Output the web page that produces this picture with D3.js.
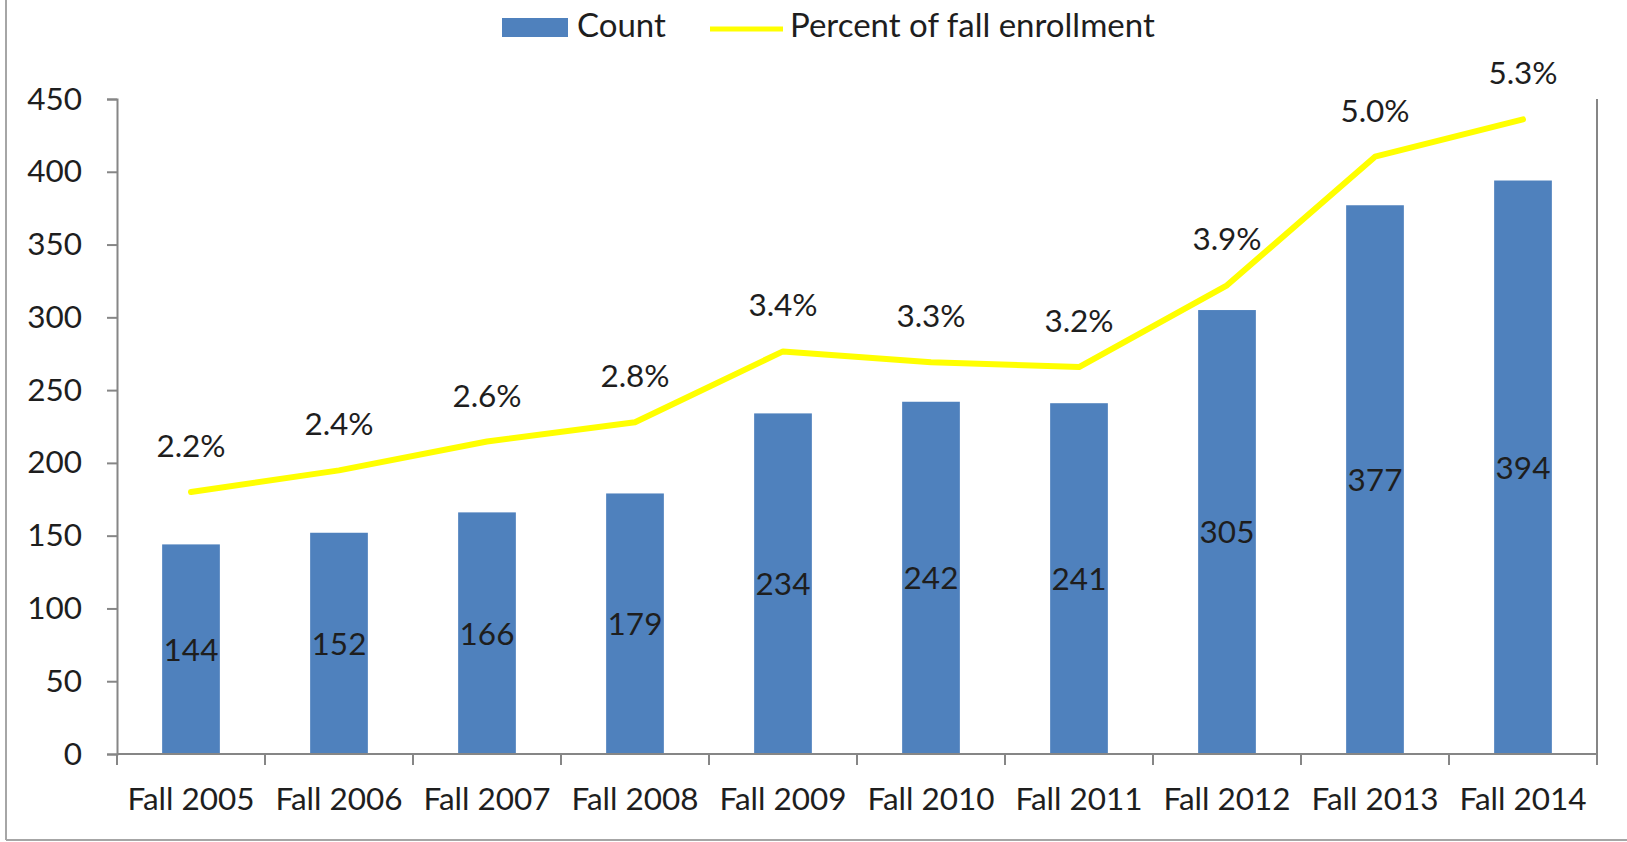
<!DOCTYPE html>
<html>
<head>
<meta charset="utf-8">
<script src="https://cdn.jsdelivr.net/npm/d3@7"></script>
<style>
  html, body { margin: 0; padding: 0; background: #fff; }
  svg text { font-family: Lato, "Open Sans", sans-serif; fill: #1e1e1e; }
</style>
</head>
<body>
<svg id="chart"></svg>
<script>
// Data
const terms = ['Fall 2005', 'Fall 2006', 'Fall 2007', 'Fall 2008', 'Fall 2009',
  'Fall 2010', 'Fall 2011', 'Fall 2012', 'Fall 2013', 'Fall 2014'];
const counts = [144, 152, 166, 179, 234, 242, 241, 305, 377, 394];
const percents = [2.18, 2.36, 2.6, 2.76, 3.35, 3.26, 3.22, 3.9, 4.97, 5.28];
const countTicks = [0, 50, 100, 150, 200, 250, 300, 350, 400, 450];

const width = 1627, height = 842;
const margin = { top: 99, right: 30, bottom: 88, left: 117 };
const fontSize = 31.5;
const legendFontSize = 33;

const svg = d3.select('#chart').attr('width', width).attr('height', height);

// Frame (left and bottom edges only are visible)
svg.append('line')
  .attr('x1', 6).attr('x2', 6).attr('y1', 0).attr('y2', 840)
  .attr('stroke', '#a6a6a6').attr('stroke-width', 2);
svg.append('line')
  .attr('x1', 6).attr('x2', width).attr('y1', 840).attr('y2', 840)
  .attr('stroke', '#a6a6a6').attr('stroke-width', 2);

const x = d3.scaleBand()
  .domain(terms)
  .range([margin.left, width - margin.right])
  .paddingInner(0.61)
  .paddingOuter(0.305);

const y = d3.scaleLinear()
  .domain([0, 450])
  .range([height - margin.bottom, margin.top]);

const yPct = d3.scaleLinear()
  .domain([0, 5.45])
  .range([height - margin.bottom, margin.top]);

const axisColor = '#868686';

// --- Bars ---
svg.append('g').attr('class', 'bars')
  .selectAll('rect')
  .data(terms)
  .join('rect')
  .attr('x', d => x(d))
  .attr('width', x.bandwidth())
  .attr('y', (d, i) => y(counts[i]))
  .attr('height', (d, i) => y(0) - y(counts[i]))
  .attr('fill', '#4f81bd');

// Bar value labels, centred in the bar
svg.append('g').attr('class', 'bar-labels')
  .selectAll('text')
  .data(terms)
  .join('text')
  .attr('x', d => x(d) + x.bandwidth() / 2)
  .attr('y', (d, i) => (y(counts[i]) + y(0)) / 2)
  .attr('dy', '0.36em')
  .attr('text-anchor', 'middle')
  .attr('font-size', fontSize)
  .text((d, i) => counts[i]);

// --- Left axis ---
const yAxis = svg.append('g')
  .attr('transform', `translate(${margin.left},0)`)
  .call(d3.axisLeft(y).tickValues(countTicks).tickSize(10).tickPadding(25));
yAxis.select('.domain').attr('stroke', axisColor).attr('stroke-width', 2);
yAxis.selectAll('.tick line').attr('stroke', axisColor).attr('stroke-width', 2);
yAxis.selectAll('.tick text')
  .attr('font-size', fontSize)
  .attr('font-family', null)
  .attr('fill', null);

// --- Right axis (line only) ---
svg.append('line')
  .attr('x1', width - margin.right).attr('x2', width - margin.right)
  .attr('y1', margin.top).attr('y2', y(0))
  .attr('stroke', axisColor).attr('stroke-width', 2);

// --- Bottom axis: ticks on the category boundaries ---
const xAxisG = svg.append('g').attr('transform', `translate(0,${y(0)})`);
xAxisG.append('line')
  .attr('x1', margin.left).attr('x2', width - margin.right)
  .attr('stroke', axisColor).attr('stroke-width', 2);
const step = x.step();
const bounds = d3.range(terms.length + 1).map(i => margin.left + i * step);
xAxisG.selectAll('.xtick')
  .data(bounds)
  .join('line')
  .attr('class', 'xtick')
  .attr('x1', d => d).attr('x2', d => d)
  .attr('y1', 0).attr('y2', 11)
  .attr('stroke', axisColor).attr('stroke-width', 2);
xAxisG.selectAll('.xlabel')
  .data(terms)
  .join('text')
  .attr('class', 'xlabel')
  .attr('x', d => x(d) + x.bandwidth() / 2)
  .attr('y', 56)
  .attr('text-anchor', 'middle')
  .attr('font-size', fontSize)
  .text(d => d);

// --- Percent line ---
const line = d3.line()
  .x(d => x(d) + x.bandwidth() / 2)
  .y((d, i) => yPct(percents[i]));

svg.append('path')
  .datum(terms)
  .attr('d', line)
  .attr('fill', 'none')
  .attr('stroke', '#ffff00')
  .attr('stroke-width', 6)
  .attr('stroke-linejoin', 'round')
  .attr('stroke-linecap', 'round');

const fmtPct = d3.format('.1f');
svg.append('g').attr('class', 'pct-labels')
  .selectAll('text')
  .data(terms)
  .join('text')
  .attr('x', d => x(d) + x.bandwidth() / 2)
  .attr('y', (d, i) => yPct(percents[i]) - 35)
  .attr('text-anchor', 'middle')
  .attr('font-size', fontSize)
  .text((d, i) => fmtPct(percents[i]) + '%');

// --- Legend ---
const legend = svg.append('g').attr('class', 'legend');
legend.append('rect')
  .attr('x', 502).attr('y', 18).attr('width', 66).attr('height', 19)
  .attr('fill', '#4f81bd');
legend.append('text')
  .attr('x', 577).attr('y', 37)
  .attr('font-size', legendFontSize)
  .text('Count');
legend.append('line')
  .attr('x1', 710).attr('x2', 783).attr('y1', 29).attr('y2', 29)
  .attr('stroke', '#ffff00').attr('stroke-width', 5);
legend.append('text')
  .attr('x', 790).attr('y', 37)
  .attr('font-size', legendFontSize)
  .text('Percent of fall enrollment');
</script>
</body>
</html>
